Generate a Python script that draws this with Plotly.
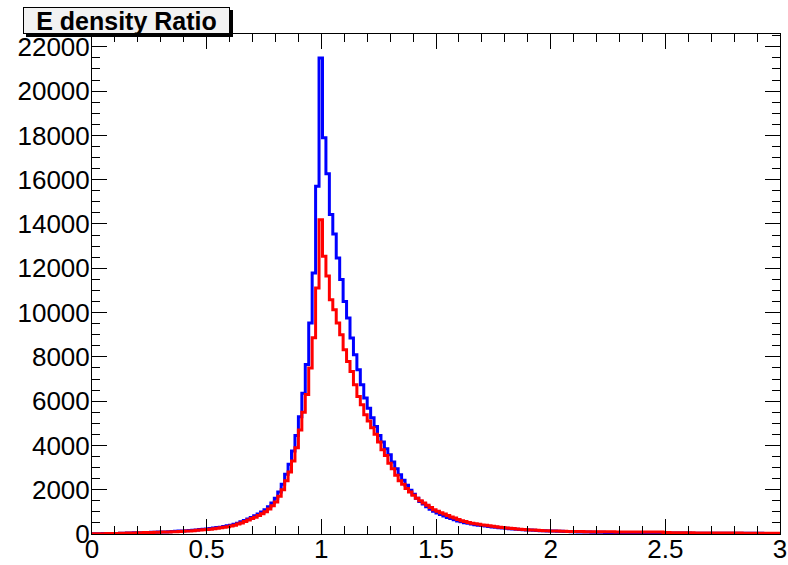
import plotly.graph_objects as go

# Histogram binning (0 to 3, 200 bins)
x_min = 0.0
bin_width = 0.015
n_bins = 200

# Blue histogram counts per bin
blue_counts = [
    10, 12, 15, 18, 20, 22, 25, 28, 32, 38,
    42, 48, 52, 58, 62, 68, 72, 76, 80, 85,
    90, 95, 100, 110, 120, 130, 140, 150, 160, 170,
    185, 200, 215, 230, 250, 270, 290, 310, 340, 370,
    400, 440, 490, 550, 610, 680, 750, 820, 900, 990,
    1100, 1230, 1400, 1620, 1900, 2250, 2700, 3150, 3750, 4450,
    5300, 6360, 7660, 9530, 11790, 15700, 21500, 17900, 16270, 14430,
    13550, 12460, 11490, 10500, 9750, 8850, 8100, 7420, 6740, 6140,
    5680, 5250, 4850, 4450, 4150, 3850, 3580, 3250, 2950, 2680,
    2430, 2200, 1980, 1790, 1620, 1470, 1350, 1230, 1120, 1030,
    950, 880, 810, 750, 700, 640, 590, 550, 510, 480,
    450, 420, 400, 380, 360, 340, 320, 300, 285, 270,
    255, 240, 228, 215, 205, 195, 185, 175, 165, 158,
    150, 145, 140, 135, 130, 125, 120, 115, 110, 105,
    100, 95, 90, 88, 85, 82, 80, 78, 75, 72,
    70, 68, 65, 62, 60, 58, 56, 55, 54, 52,
    50, 50, 50, 48, 47, 46, 45, 44, 43, 42,
    42, 41, 40, 40, 39, 38, 38, 37, 36, 36,
    35, 35, 34, 34, 33, 33, 32, 32, 31, 31,
    30, 30, 30, 29, 29, 28, 28, 28, 27, 27,
]

# Red histogram counts per bin
red_counts = [
    8, 10, 12, 15, 18, 20, 22, 25, 30, 35,
    40, 45, 50, 55, 60, 65, 68, 70, 75, 80,
    85, 90, 95, 100, 105, 110, 120, 130, 140, 150,
    165, 175, 190, 200, 220, 240, 260, 280, 300, 330,
    360, 400, 450, 500, 560, 630, 700, 760, 830, 920,
    1010, 1130, 1280, 1450, 1700, 2000, 2400, 2800, 3300, 3900,
    4700, 5500, 6300, 7500, 8860, 11110, 14190, 12540, 11650, 10580,
    10130, 9525, 9000, 8320, 7790, 7340, 6740, 6210, 5840, 5385,
    5100, 4800, 4500, 4150, 3800, 3550, 3200, 2950, 2650, 2400,
    2250, 2050, 1900, 1750, 1620, 1500, 1400, 1300, 1200, 1100,
    1030, 960, 900, 830, 770, 720, 660, 600, 560, 520,
    490, 460, 440, 410, 390, 370, 350, 330, 310, 290,
    275, 260, 245, 230, 220, 205, 195, 185, 175, 165,
    160, 150, 145, 140, 135, 130, 125, 120, 118, 115,
    112, 110, 108, 106, 105, 104, 102, 100, 100, 98,
    97, 96, 95, 94, 93, 92, 92, 91, 90, 90,
    89, 88, 88, 87, 86, 85, 70, 65, 62, 60,
    58, 56, 55, 54, 52, 50, 50, 48, 47, 46,
    45, 45, 44, 43, 42, 42, 41, 40, 40, 39,
    38, 38, 37, 36, 36, 35, 35, 34, 34, 33,
]

title_text = "E density Ratio"
x_range = [0, 3]
y_range = [0, 22580]

edges = [x_min + bin_width * i for i in range(n_bins + 1)]


def step_xy(counts):
    xs = list(edges[:len(counts)]) + [edges[len(counts)]]
    ys = list(counts) + [counts[-1]]
    return xs, ys


fig = go.Figure()
bx, by = step_xy(blue_counts)
rx, ry = step_xy(red_counts)
fig.add_trace(go.Scatter(x=bx, y=by, mode="lines", line=dict(color="#0000ff", width=3, shape="hv"),
                         showlegend=False, hoverinfo="skip", cliponaxis=True))
fig.add_trace(go.Scatter(x=rx, y=ry, mode="lines", line=dict(color="#ff0000", width=3, shape="hv"),
                         showlegend=False, hoverinfo="skip", cliponaxis=True))

tick_font = dict(family="Liberation Sans, Arial, sans-serif", size=26, color="black")

fig.update_layout(
    width=788, height=565,
    margin=dict(l=92, r=8, t=34, b=31, autoexpand=False),
    paper_bgcolor="white", plot_bgcolor="white",
    showlegend=False,
    xaxis=dict(
        range=x_range, dtick=0.5, tick0=0, ticks="inside", ticklen=15, tickwidth=1, tickcolor="black",
        showline=True, linecolor="black", linewidth=1, mirror="ticks", showgrid=False, zeroline=False,
        tickfont=tick_font, ticklabelstandoff=-8, automargin=False, ticklabeloverflow="allow",
        minor=dict(dtick=0.1, tick0=0, ticks="inside", ticklen=8, tickwidth=1, tickcolor="black", showgrid=False),
    ),
    yaxis=dict(
        range=y_range, dtick=2000, tick0=0, ticks="inside", ticklen=15, tickwidth=1, tickcolor="black",
        showline=True, linecolor="black", linewidth=1, mirror="ticks", showgrid=False, zeroline=False,
        tickfont=tick_font, tickformat="d", ticklabelstandoff=-4, automargin=False,
        minor=dict(dtick=500, tick0=0, ticks="inside", ticklen=8, tickwidth=1, tickcolor="black", showgrid=False),
    ),
)

# Title box with shadow (ROOT style)
for shift, bg in [(3, "black"), (0, "#f2f2f2")]:
    fig.add_annotation(
        x=-0.1003, y=1.054, xref="paper", yref="paper", xanchor="left", yanchor="top",
        text="<b>%s</b>" % title_text, showarrow=False,
        font=dict(family="Liberation Sans, Arial, sans-serif", size=25, color="black"),
        bgcolor=bg, bordercolor="black", borderwidth=1, borderpad=0,
        width=205, height=25, align="center",
        xshift=shift, yshift=-shift,
    )

fig.write_html(
    "out.html",
    config={"displayModeBar": False},
    post_script="document.body.style.margin='0';document.body.style.overflow='hidden';",
)
